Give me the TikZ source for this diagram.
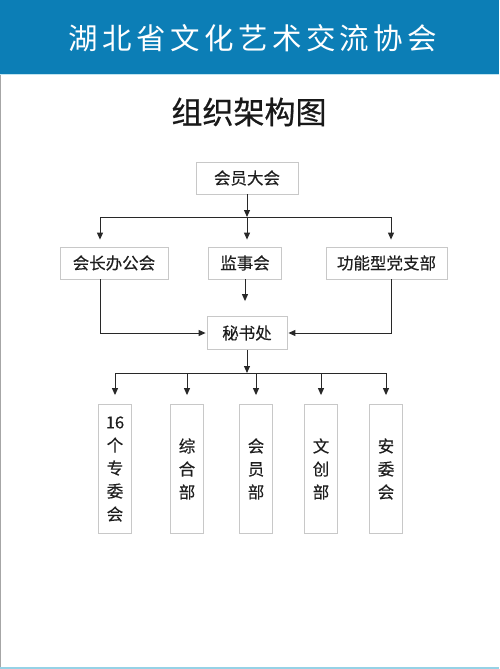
\documentclass[tikz,border=0pt]{standalone}
\usepackage{fontspec}
\setmainfont{Noto Sans CJK SC}
\usetikzlibrary{arrows.meta}
\definecolor{bandblue}{RGB}{12,126,182}
\definecolor{boxgray}{RGB}{200,200,200}
\definecolor{wiregray}{RGB}{40,40,40}
\definecolor{textgray}{RGB}{30,30,30}
\definecolor{edgeblue}{RGB}{150,210,230}

\begin{document}
\begin{tikzpicture}[x=1pt, y=-1pt,
    box/.style={draw=boxgray, line width=0.8pt, fill=white, inner sep=0pt,
                minimum height=32, text=textgray,
                font=\fontsize{16.5}{16.5}\selectfont\addfontfeature{FakeBold=0.2}},
    tall/.style={box, minimum width=33, minimum height=129, align=center,
                 font=\fontsize{16.5}{23}\selectfont\addfontfeature{FakeBold=0.2}},
    wire/.style={draw=wiregray, line width=1pt},
    arr/.style={wire, -{Triangle[length=7pt, width=6pt]}}]
    \useasboundingbox (0,0) rectangle (499,669);
    % Header band and frame:
    \fill[bandblue] (0,0) rectangle (499,74);
    \draw[edgeblue!60, line width=0.8pt] (0,74.6) -- (499,74.6);
    \draw[black!35, line width=1.2pt] (0.6,75) -- (0.6,669);
    \draw[edgeblue, line width=1.6pt] (0,668.2) -- (499,668.2);
    \node[text=white, font=\fontsize{29.5}{29.5}\selectfont\addfontfeature{LetterSpace=15}] (title) at (253,38) {湖北省文化艺术交流协会};
    \node[text=black!90, font=\fontsize{31}{31}\selectfont\addfontfeature{FakeBold=0.6}] (heading) at (249,112) {组织架构图};
    % Boxes:
    \node[box, minimum width=102] (dahui) at (247,178) {会员大会};
    \node[box, minimum width=108] (huizhang) at (114,263) {会长办公会};
    \node[box, minimum width=73] (jianshi) at (245,263) {监事会};
    \node[box, minimum width=121] (dangzhi) at (386.5,263) {功能型党支部};
    \node[box, minimum width=80, minimum height=33] (mishu) at (247,333) {秘书处};
    \node[tall] (zhuanwei) at (115,469) {16\\个\\专\\委\\会};
    \node[tall] (zonghe) at (187,469) {综\\合\\部};
    \node[tall] (huiyuan) at (256,469) {会\\员\\部};
    \node[tall] (wenchuang) at (321,469) {文\\创\\部};
    \node[tall] (anwei) at (386,469) {安\\委\\会};
    % Paths and wires:
    \coordinate (busA) at (247,217);
    \coordinate (busAl) at (100,217);
    \coordinate (busAr) at (391,217);
    \coordinate (busB) at (247,373);
    \draw[arr] (dahui) -- (busA);
    \draw[wire] (busAl) -- (busAr);
    \draw[arr, shorten >=7] (busAl) -- (busAl |- huizhang.north);
    \draw[arr, shorten >=7] (busA) -- (busA |- jianshi.north);
    \draw[arr, shorten >=7] (busAr) -- (busAr |- dangzhi.north);
    \draw[arr, shorten >=15] (jianshi.south) -- (jianshi.south |- mishu.north);
    \draw[arr, shorten >=1] (busAl |- huizhang.south) |- (mishu.west);
    \draw[arr, shorten >=1] (busAr |- dangzhi.south) |- (mishu.east);
    \draw[arr] (mishu) -- (busB);
    \draw[wire] (zhuanwei.north |- busB) -- (anwei.north |- busB);
    \draw[arr, shorten >=9] (zhuanwei.north |- busB) -- (zhuanwei.north);
    \draw[arr, shorten >=9] (zonghe.north |- busB) -- (zonghe.north);
    \draw[arr, shorten >=9] (huiyuan.north |- busB) -- (huiyuan.north);
    \draw[arr, shorten >=9] (wenchuang.north |- busB) -- (wenchuang.north);
    \draw[arr, shorten >=9] (anwei.north |- busB) -- (anwei.north);
\end{tikzpicture}
\end{document}
